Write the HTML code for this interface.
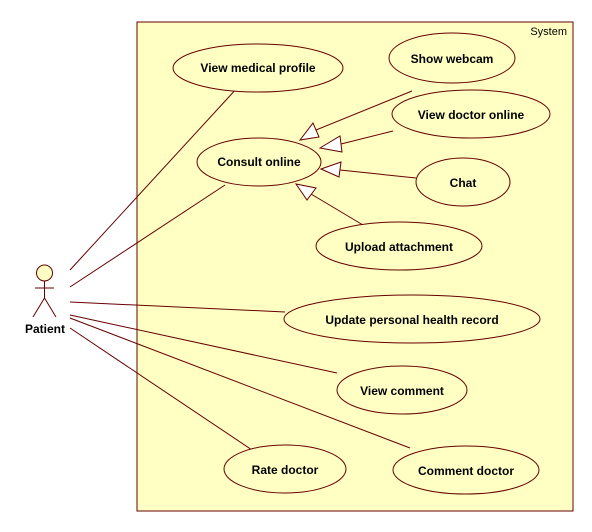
<!DOCTYPE html>
<html><head><meta charset="utf-8"><style>
html,body{margin:0;padding:0;background:#fff}
svg{display:block}
text{font-family:"Liberation Sans",Arial,sans-serif;font-size:12px;font-weight:bold;fill:#000}
</style></head><body>
<svg width="592" height="532" viewBox="0 0 592 532" xmlns="http://www.w3.org/2000/svg">
<rect x="137" y="22" width="436" height="489" fill="#ffffc4" stroke="#660000" stroke-width="1"/>
<text x="567" y="35" text-anchor="end" style="font-weight:normal;font-size:11px">System</text>
<g stroke="#660000" stroke-width="1" fill="none">
<line x1="70" y1="270" x2="238" y2="87"/>
<line x1="70" y1="287" x2="225" y2="185"/>
<line x1="70" y1="302" x2="285" y2="312"/>
<line x1="70" y1="315" x2="337" y2="373"/>
<line x1="70" y1="318" x2="410" y2="448"/>
<line x1="70" y1="328" x2="255" y2="452"/>
<line x1="412" y1="91" x2="316" y2="130"/>
<line x1="393" y1="131" x2="341" y2="144"/>
<line x1="416" y1="178" x2="340" y2="170"/>
<line x1="363" y1="225" x2="311" y2="194"/>
</g>
<g stroke="#660000" stroke-width="1" fill="#fff">
<polygon points="300,140 313,123 319,137"/>
<polygon points="320,148 340,136 342,152"/>
<polygon points="321,169 341,162 339,177"/>
<polygon points="296,184 316,188 307,200"/>
</g>
<g stroke="#660000" stroke-width="1" fill="#ffffc4">
<ellipse cx="258" cy="68" rx="85" ry="24"/>
<ellipse cx="452" cy="58" rx="63" ry="25"/>
<ellipse cx="471" cy="114" rx="79" ry="24"/>
<ellipse cx="259" cy="162" rx="62" ry="24"/>
<ellipse cx="463" cy="182" rx="47" ry="24"/>
<ellipse cx="399" cy="246" rx="83" ry="24"/>
<ellipse cx="412" cy="319" rx="128" ry="24"/>
<ellipse cx="402" cy="390" rx="65" ry="24"/>
<ellipse cx="285" cy="469" rx="61" ry="24"/>
<ellipse cx="466" cy="470" rx="73" ry="24"/>
</g>
<g text-anchor="middle">
<text x="258" y="72">View medical profile</text>
<text x="452" y="63">Show webcam</text>
<text x="471" y="119">View doctor online</text>
<text x="259" y="166">Consult online</text>
<text x="463" y="187">Chat</text>
<text x="399" y="251">Upload attachment</text>
<text x="412" y="324">Update personal health record</text>
<text x="402" y="395">View comment</text>
<text x="285" y="474">Rate doctor</text>
<text x="466" y="475">Comment doctor</text>
<text x="45" y="333">Patient</text>
</g>
<g stroke="#660000" stroke-width="1" fill="none">
<circle cx="44.5" cy="273" r="8" fill="#ffffc4"/>
<line x1="44.5" y1="281" x2="44.5" y2="298"/>
<line x1="35" y1="288" x2="54" y2="288"/>
<line x1="44.5" y1="298" x2="33" y2="317"/>
<line x1="44.5" y1="298" x2="56" y2="317"/>
</g>
</svg>
</body></html>
